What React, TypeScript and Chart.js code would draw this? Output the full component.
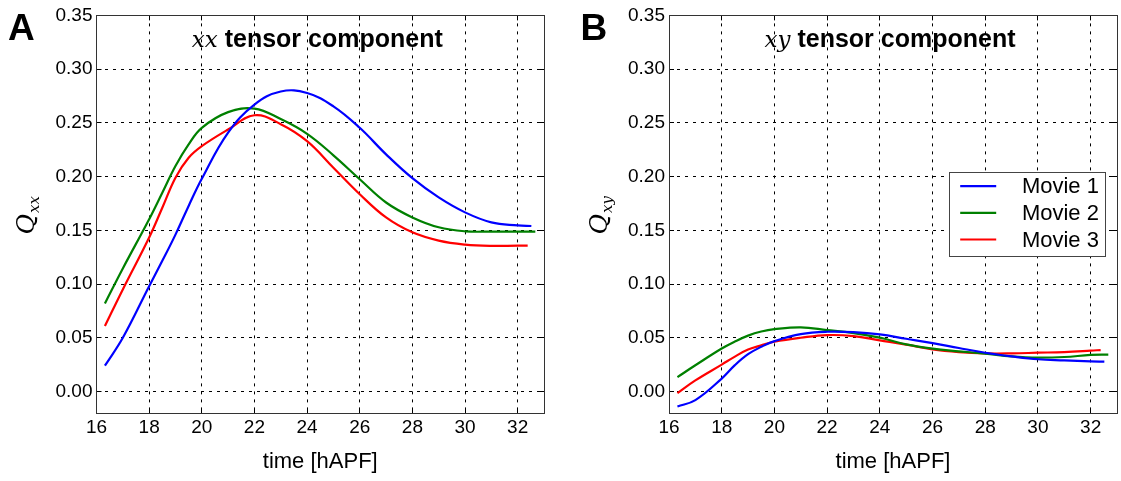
import React, { useEffect, useRef } from "react";
import { Chart, registerables } from "chart.js";

Chart.register(...registerables);

// ---------- data ----------
const seriesLabels = ["Movie 1", "Movie 2", "Movie 3"];
const seriesColors = ["#0000ff", "#008000", "#ff0000"];

const xTickValues = [16, 18, 20, 22, 24, 26, 28, 30, 32];
const yTickValues = [0, 0.05, 0.1, 0.15, 0.2, 0.25, 0.3, 0.35];
const xMin = 16;
const xMax = 33;
const yMin = -0.02;
const yMax = 0.35;

const timeMovie1 = [16.32, 17, 18, 18.5, 19, 19.5, 20, 21, 22, 23, 24, 25, 26, 27, 28, 29, 30, 31, 32, 32.52];
const timeMovie2 = [16.32, 17, 18, 18.5, 19, 19.5, 20, 21, 22, 23, 24, 25, 26, 27, 28, 29, 30, 31, 32, 32.67];
const timeMovie3 = [16.32, 17, 18, 18.5, 19, 19.5, 20, 21, 22, 23, 24, 25, 26, 27, 28, 29, 30, 31, 32, 32.38];

// Panel A: Qxx
const qxxMovie1 = [0.024, 0.05, 0.098, 0.1216, 0.146, 0.1727, 0.198, 0.241, 0.267, 0.2792, 0.2778, 0.2654, 0.2454, 0.2207, 0.1985, 0.1806, 0.1667, 0.1574, 0.1546, 0.154];
const qxxMovie2 = [0.082, 0.1145, 0.1603, 0.185, 0.2098, 0.2299, 0.2454, 0.26, 0.2633, 0.2535, 0.2398, 0.2198, 0.1975, 0.1759, 0.162, 0.1528, 0.1491, 0.1488, 0.1488, 0.1488];
const qxxMovie3 = [0.061, 0.095, 0.1433, 0.171, 0.199, 0.2175, 0.2283, 0.2438, 0.2571, 0.2488, 0.233, 0.2083, 0.1836, 0.162, 0.1481, 0.1404, 0.1367, 0.1355, 0.1358, 0.1358];

// Panel B: Qxy
const qxyMovie1 = [-0.014, -0.008, 0.012, 0.0245, 0.0347, 0.0416, 0.0469, 0.0534, 0.0556, 0.0552, 0.0531, 0.0491, 0.0451, 0.0405, 0.0361, 0.0327, 0.03, 0.029, 0.0281, 0.0278];
const qxyMovie2 = [0.0134, 0.0244, 0.04, 0.0465, 0.052, 0.0558, 0.058, 0.0597, 0.0572, 0.0544, 0.0501, 0.0439, 0.0399, 0.0374, 0.0352, 0.0327, 0.0315, 0.0321, 0.034, 0.0343];
const qxyMovie3 = [-0.0016, 0.0103, 0.025, 0.0325, 0.039, 0.043, 0.0463, 0.05, 0.0525, 0.0516, 0.0476, 0.0436, 0.0392, 0.0367, 0.0355, 0.0355, 0.0361, 0.0367, 0.038, 0.0386];

const xAxisTitle = "time [hAPF]";
const titleRest = " tensor component";

// ---------- styling ----------
const SANS = '"Liberation Sans", Arial, sans-serif';
const SERIF = '"DejaVu Serif", serif';

function alignPx(p: number) {
  return Math.round(p - 0.5) + 0.5;
}

function makeDecor(letter: string, sub: string, showLegend: boolean) {
  return {
    id: "decor",
    afterDraw(chart: any) {
      const { ctx, chartArea: a } = chart;
      const xs = chart.scales.x;
      const ys = chart.scales.y;
      ctx.save();
      ctx.setLineDash([]);

      // inward tick marks
      ctx.strokeStyle = "#000";
      ctx.lineWidth = 1;
      ctx.beginPath();
      xTickValues.forEach((v) => {
        const p = alignPx(xs.getPixelForValue(v));
        ctx.moveTo(p, a.top);
        ctx.lineTo(p, a.top + 5);
        ctx.moveTo(p, a.bottom);
        ctx.lineTo(p, a.bottom - 5);
      });
      yTickValues.forEach((v) => {
        const p = alignPx(ys.getPixelForValue(v));
        ctx.moveTo(a.left, p);
        ctx.lineTo(a.left + 5, p);
        ctx.moveTo(a.right, p);
        ctx.lineTo(a.right - 5, p);
      });
      ctx.stroke();

      // frame
      ctx.strokeStyle = "#333";
      const l = alignPx(a.left);
      const t = alignPx(a.top);
      const r = alignPx(a.right);
      const b = alignPx(a.bottom);
      ctx.strokeRect(l, t, r - l, b - t);

      // title inside plot
      const mathFont = `italic 23px ${SERIF}`;
      const boldFont = `bold 25px ${SANS}`;
      ctx.font = mathFont;
      const w1 = ctx.measureText(sub).width;
      ctx.font = boldFont;
      const w2 = ctx.measureText(titleRest).width;
      const cx = (a.left + a.right) / 2 - 3;
      const by = a.top + 32;
      const x0 = cx - (w1 + w2) / 2;
      ctx.fillStyle = "#000";
      ctx.textAlign = "left";
      ctx.textBaseline = "alphabetic";
      ctx.font = mathFont;
      ctx.fillText(sub, x0, by);
      ctx.font = boldFont;
      ctx.fillText(titleRest, x0 + w1, by);

      // y axis label Q_sub
      ctx.save();
      ctx.translate(a.left - 69, (a.top + a.bottom) / 2 + 1.5);
      ctx.rotate(-Math.PI / 2);
      const qFont = `italic 25px ${SERIF}`;
      const sFont = `italic 15px ${SERIF}`;
      ctx.font = qFont;
      const wq = ctx.measureText("Q").width;
      ctx.font = sFont;
      const ws = ctx.measureText(sub).width;
      const lx = -(wq + ws) / 2;
      ctx.textBaseline = "middle";
      ctx.font = qFont;
      ctx.fillText("Q", lx, 0);
      ctx.font = sFont;
      ctx.fillText(sub, lx + wq + 1, 8);
      ctx.restore();

      // panel letter
      ctx.font = `bold 37px ${SANS}`;
      ctx.textBaseline = "alphabetic";
      ctx.fillStyle = "#000";
      ctx.fillText(letter, a.left - 88.5, 40);

      // legend
      if (showLegend) {
        const bw = 156;
        const bh = 84;
        const bx = alignPx(a.right - 12 - bw);
        const bt = alignPx(a.top + 157);
        ctx.fillStyle = "#fff";
        ctx.fillRect(bx, bt, bw, bh);
        ctx.strokeStyle = "#444";
        ctx.lineWidth = 1;
        ctx.strokeRect(bx, bt, bw, bh);
        chart.data.datasets.forEach((ds: any, i: number) => {
          const ry = bt + 13.6 + i * 26.7;
          ctx.strokeStyle = ds.borderColor;
          ctx.lineWidth = 2.2;
          ctx.beginPath();
          ctx.moveTo(bx + 10.7, ry);
          ctx.lineTo(bx + 46.7, ry);
          ctx.stroke();
          ctx.fillStyle = "#000";
          ctx.font = `22px ${SANS}`;
          ctx.textBaseline = "middle";
          ctx.fillText(ds.label, bx + 72.4, ry + 1);
        });
      }
      ctx.restore();
    },
  };
}

type PanelProps = {
  letter: string;
  sub: string;
  values: number[][];
  showLegend: boolean;
  width: number;
  height: number;
  yAxisWidth: number;
  rightPad: number;
};

function Panel(props: PanelProps) {
  const ref = useRef<HTMLCanvasElement>(null);
  useEffect(() => {
    const canvas = ref.current;
    if (!canvas) return;
    const times = [timeMovie1, timeMovie2, timeMovie3];
    const chart = new Chart(canvas, {
      type: "line",
      data: {
        datasets: seriesLabels.map((label, i) => ({
          label,
          data: times[i].map((t, j) => ({ x: t, y: props.values[i][j] })),
          borderColor: seriesColors[i],
          backgroundColor: seriesColors[i],
          borderWidth: 2.2,
          pointRadius: 0,
          pointHoverRadius: 0,
          fill: false,
          tension: 0.4,
        })),
      },
      options: {
        responsive: false,
        animation: false,
        events: [],
        layout: { padding: { top: 14, right: props.rightPad, left: 0, bottom: 0 } },
        plugins: {
          legend: { display: false },
          tooltip: { enabled: false },
          title: { display: false },
        },
        scales: {
          x: {
            type: "linear",
            min: xMin,
            max: xMax,
            afterBuildTicks: (s: any) => {
              s.ticks = xTickValues.map((v) => ({ value: v }));
            },
            afterFit: (s: any) => {
              s.height = props.height - 413;
            },
            grid: { color: "#000", lineWidth: 1, drawTicks: false },
            border: { display: false, dash: [3, 5] },
            ticks: {
              padding: 3,
              color: "#000",
              autoSkip: false,
              maxRotation: 0,
              font: { family: SANS, size: 19 },
              callback: (v: any) => String(v),
            },
            title: {
              display: true,
              text: xAxisTitle,
              color: "#000",
              font: { family: SANS, size: 22 },
              padding: { top: 0, bottom: 6 },
            },
          },
          y: {
            type: "linear",
            min: yMin,
            max: yMax,
            afterBuildTicks: (s: any) => {
              s.ticks = yTickValues.map((v) => ({ value: v }));
            },
            afterFit: (s: any) => {
              s.width = props.yAxisWidth;
            },
            grid: { color: "#000", lineWidth: 1, drawTicks: false },
            border: { display: false, dash: [3, 5] },
            ticks: {
              padding: 4,
              color: "#000",
              autoSkip: false,
              font: { family: SANS, size: 19 },
              callback: (v: any) => Number(v).toFixed(2),
            },
            title: { display: false },
          },
        },
      },
      plugins: [makeDecor(props.letter, props.sub, props.showLegend)],
    } as any);
    return () => chart.destroy();
  }, []);
  return (
    <canvas
      ref={ref}
      width={props.width}
      height={props.height}
      style={{ display: "block", width: props.width, height: props.height }}
    />
  );
}

export default function App() {
  return (
    <div style={{ position: "absolute", left: 0, top: 0, width: 1121, height: 481, background: "#fff" }}>
      <div style={{ position: "absolute", left: 0, top: 0 }}>
        <Panel
          letter="A"
          sub="xx"
          values={[qxxMovie1, qxxMovie2, qxxMovie3]}
          showLegend={false}
          width={560}
          height={481}
          yAxisWidth={96.5}
          rightPad={16}
        />
      </div>
      <div style={{ position: "absolute", left: 560, top: 0 }}>
        <Panel
          letter="B"
          sub="xy"
          values={[qxyMovie1, qxyMovie2, qxyMovie3]}
          showLegend={true}
          width={561}
          height={481}
          yAxisWidth={109}
          rightPad={4}
        />
      </div>
    </div>
  );
}
